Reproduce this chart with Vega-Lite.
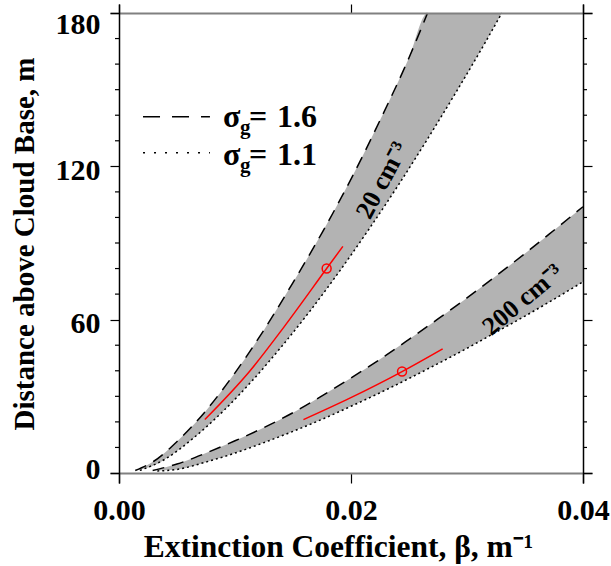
{
  "$schema": "https://vega.github.io/schema/vega-lite/v6.json",
  "width": 482,
  "height": 479,
  "autosize": {"type": "none"},
  "padding": {"left": 110, "top": 4, "right": 19, "bottom": 83},
  "config": {"view": {"stroke": null}, "font": "Liberation Serif"},
  "datasets": {
    "area": [
      {"band": "20", "b": 0.0014, "top": 1.0, "bot": 1.0},
      {"band": "20", "b": 0.003, "top": 4.6, "bot": 2.9},
      {"band": "20", "b": 0.005, "top": 12.3, "bot": 8.6},
      {"band": "20", "b": 0.0075, "top": 24.4, "bot": 17.9},
      {"band": "20", "b": 0.010, "top": 39.2, "bot": 28.9},
      {"band": "20", "b": 0.0125, "top": 56.0, "bot": 41.4},
      {"band": "20", "b": 0.015, "top": 74.5, "bot": 55.0},
      {"band": "20", "b": 0.0175, "top": 94.0, "bot": 69.6},
      {"band": "20", "b": 0.020, "top": 115.0, "bot": 85.2},
      {"band": "20", "b": 0.0225, "top": 138.0, "bot": 101.8},
      {"band": "20", "b": 0.025, "top": 162.5, "bot": 119.2},
      {"band": "20", "b": 0.0266, "top": 180, "bot": 130.8},
      {"band": "20", "b": 0.029, "top": 180, "bot": 148.6},
      {"band": "20", "b": 0.0315, "top": 180, "bot": 167.9},
      {"band": "20", "b": 0.033, "top": 180, "bot": 180},
      {"band": "200", "b": 0.0029, "top": 1.0, "bot": 1.0},
      {"band": "200", "b": 0.005, "top": 3.5, "bot": 1.4},
      {"band": "200", "b": 0.0075, "top": 7.8, "bot": 4.3},
      {"band": "200", "b": 0.010, "top": 12.6, "bot": 7.8},
      {"band": "200", "b": 0.0125, "top": 17.8, "bot": 11.9},
      {"band": "200", "b": 0.015, "top": 23.6, "bot": 16.3},
      {"band": "200", "b": 0.0175, "top": 30.2, "bot": 21.0},
      {"band": "200", "b": 0.020, "top": 37.2, "bot": 26.1},
      {"band": "200", "b": 0.0225, "top": 44.5, "bot": 31.4},
      {"band": "200", "b": 0.025, "top": 52.3, "bot": 37.0},
      {"band": "200", "b": 0.0275, "top": 60.3, "bot": 42.8},
      {"band": "200", "b": 0.030, "top": 68.5, "bot": 48.8},
      {"band": "200", "b": 0.0325, "top": 77.1, "bot": 55.1},
      {"band": "200", "b": 0.035, "top": 85.9, "bot": 61.4},
      {"band": "200", "b": 0.0375, "top": 95.0, "bot": 68.0},
      {"band": "200", "b": 0.040, "top": 104.2, "bot": 74.8}
    ],
    "dashed": [
      {"band": "20", "b": 0.0014, "z": 1.0},
      {"band": "20", "b": 0.003, "z": 4.6},
      {"band": "20", "b": 0.005, "z": 12.3},
      {"band": "20", "b": 0.0075, "z": 24.4},
      {"band": "20", "b": 0.010, "z": 39.2},
      {"band": "20", "b": 0.0125, "z": 56.0},
      {"band": "20", "b": 0.015, "z": 74.5},
      {"band": "20", "b": 0.0175, "z": 94.0},
      {"band": "20", "b": 0.020, "z": 115.0},
      {"band": "20", "b": 0.0225, "z": 138.0},
      {"band": "20", "b": 0.025, "z": 162.5},
      {"band": "20", "b": 0.0266, "z": 180},
      {"band": "200", "b": 0.0029, "z": 1.0},
      {"band": "200", "b": 0.005, "z": 3.5},
      {"band": "200", "b": 0.0075, "z": 7.8},
      {"band": "200", "b": 0.010, "z": 12.6},
      {"band": "200", "b": 0.0125, "z": 17.8},
      {"band": "200", "b": 0.015, "z": 23.6},
      {"band": "200", "b": 0.0175, "z": 30.2},
      {"band": "200", "b": 0.020, "z": 37.2},
      {"band": "200", "b": 0.0225, "z": 44.5},
      {"band": "200", "b": 0.025, "z": 52.3},
      {"band": "200", "b": 0.0275, "z": 60.3},
      {"band": "200", "b": 0.030, "z": 68.5},
      {"band": "200", "b": 0.0325, "z": 77.1},
      {"band": "200", "b": 0.035, "z": 85.9},
      {"band": "200", "b": 0.0375, "z": 95.0},
      {"band": "200", "b": 0.040, "z": 104.2}
    ],
    "dotted": [
      {"band": "20", "b": 0.0018, "z": 1.0},
      {"band": "20", "b": 0.004, "z": 5.5},
      {"band": "20", "b": 0.0065, "z": 14.0},
      {"band": "20", "b": 0.009, "z": 24.3},
      {"band": "20", "b": 0.0115, "z": 36.2},
      {"band": "20", "b": 0.014, "z": 49.4},
      {"band": "20", "b": 0.0165, "z": 63.6},
      {"band": "20", "b": 0.019, "z": 78.9},
      {"band": "20", "b": 0.0215, "z": 95.1},
      {"band": "20", "b": 0.024, "z": 112.1},
      {"band": "20", "b": 0.0265, "z": 130.0},
      {"band": "20", "b": 0.029, "z": 148.6},
      {"band": "20", "b": 0.0315, "z": 167.9},
      {"band": "20", "b": 0.033, "z": 180},
      {"band": "200", "b": 0.0033, "z": 0.8},
      {"band": "200", "b": 0.005, "z": 1.4},
      {"band": "200", "b": 0.0075, "z": 4.3},
      {"band": "200", "b": 0.010, "z": 7.8},
      {"band": "200", "b": 0.0125, "z": 11.9},
      {"band": "200", "b": 0.015, "z": 16.3},
      {"band": "200", "b": 0.0175, "z": 21.0},
      {"band": "200", "b": 0.020, "z": 26.1},
      {"band": "200", "b": 0.0225, "z": 31.4},
      {"band": "200", "b": 0.025, "z": 37.0},
      {"band": "200", "b": 0.0275, "z": 42.8},
      {"band": "200", "b": 0.030, "z": 48.8},
      {"band": "200", "b": 0.0325, "z": 55.1},
      {"band": "200", "b": 0.035, "z": 61.4},
      {"band": "200", "b": 0.0375, "z": 68.0},
      {"band": "200", "b": 0.040, "z": 74.8}
    ],
    "red": [
      {"band": "20", "b": 0.0074, "z": 20.9},
      {"band": "20", "b": 0.0113, "z": 40.0},
      {"band": "20", "b": 0.0142, "z": 57.0},
      {"band": "20", "b": 0.0179, "z": 80.0},
      {"band": "20", "b": 0.0193, "z": 88.7},
      {"band": "200", "b": 0.0159, "z": 20.9},
      {"band": "200", "b": 0.0199, "z": 29.3},
      {"band": "200", "b": 0.0244, "z": 39.7},
      {"band": "200", "b": 0.0279, "z": 48.6}
    ],
    "circ": [
      {"band": "20", "b": 0.0179, "z": 80.0},
      {"band": "200", "b": 0.0244, "z": 39.7}
    ],
    "minor": [
      {"v": 10}, {"v": 20}, {"v": 30}, {"v": 40}, {"v": 50},
      {"v": 70}, {"v": 80}, {"v": 90}, {"v": 100}, {"v": 110},
      {"v": 130}, {"v": 140}, {"v": 150}, {"v": 160}, {"v": 170}
    ],
    "legtext": [
      {"sg": "1.6", "b": 0.00897, "z": 135.5},
      {"sg": "1.1", "b": 0.00897, "z": 120.6}
    ]
  },
  "resolve": {"axis": {"x": "independent", "y": "independent"}},
  "layer": [
    {
      "data": {"name": "area"},
      "mark": {"type": "area", "color": "#b3b3b3", "interpolate": "monotone", "opacity": 1},
      "encoding": {
        "x": {
          "field": "b", "type": "quantitative",
          "scale": {"domain": [-0.000776, 0.040776], "nice": false, "zero": false},
          "axis": {
            "orient": "bottom", "offset": -10, "values": [0, 0.02, 0.04], "format": ".2f",
            "tickSize": 10, "tickColor": "black", "tickWidth": 1.2,
            "domainColor": "#808080", "domainWidth": 2,
            "labelFont": "Liberation Serif", "labelFontSize": 30, "labelFontWeight": "bold", "labelColor": "black",
            "labelPadding": 12, "labelFlush": false, "labelOverlap": false, "grid": false,
            "title": "Extinction Coefficient, β, m⁻¹",
            "titleFont": "Liberation Serif", "titleFontSize": 31.5, "titleFontWeight": "bold", "titleColor": "black",
            "titlePadding": 6, "titleX": 228, "zindex": 1
          }
        },
        "y": {
          "field": "top", "type": "quantitative",
          "scale": {"domain": [-3.913, 183.522], "nice": false, "zero": false},
          "axis": {
            "orient": "left", "offset": -9, "values": [0, 60, 120, 180], "format": "d",
            "tickSize": 9, "tickColor": "black", "tickWidth": 1.2,
            "domainColor": "black", "domainWidth": 1.5,
            "labelFont": "Liberation Serif", "labelFontSize": 30, "labelFontWeight": "bold", "labelColor": "black",
            "labelPadding": 10, "labelFlush": 12, "labelFlushOffset": 7.5, "labelOffset": 4,
            "labelOverlap": false, "grid": false,
            "title": "Distance above Cloud Base, m",
            "titleFont": "Liberation Serif", "titleFontSize": 29, "titleFontWeight": "bold", "titleColor": "black",
            "titlePadding": 16, "zindex": 1
          }
        },
        "y2": {"field": "bot"},
        "detail": {"field": "band"}
      }
    },
    {
      "data": {"name": "dashed"},
      "mark": {"type": "line", "color": "black", "strokeWidth": 1.5, "strokeDash": [12, 8], "interpolate": "monotone"},
      "encoding": {
        "x": {
          "field": "b", "type": "quantitative",
          "axis": {
            "orient": "top", "offset": -9, "values": [0, 0.02, 0.04], "tickSize": 9, "tickColor": "black", "tickWidth": 1.2,
            "labels": false, "domainColor": "#808080", "domainWidth": 2, "grid": false, "title": null, "zindex": 1
          }
        },
        "y": {
          "field": "z", "type": "quantitative",
          "axis": {
            "orient": "right", "offset": -9, "values": [0, 60, 120, 180], "tickSize": 9, "tickColor": "black", "tickWidth": 1.2,
            "labels": false, "domainColor": "black", "domainWidth": 1.5, "grid": false, "title": null, "zindex": 1
          }
        },
        "detail": {"field": "band"}
      }
    },
    {
      "data": {"name": "dotted"},
      "mark": {"type": "line", "color": "black", "strokeWidth": 1.5, "strokeDash": [2, 3], "interpolate": "monotone"},
      "encoding": {
        "x": {"field": "b", "type": "quantitative", "axis": null},
        "y": {"field": "z", "type": "quantitative", "axis": null},
        "detail": {"field": "band"}
      }
    },
    {
      "data": {"name": "red"},
      "mark": {"type": "line", "color": "#ff0000", "strokeWidth": 1.5, "interpolate": "monotone"},
      "encoding": {
        "x": {"field": "b", "type": "quantitative", "axis": null},
        "y": {"field": "z", "type": "quantitative", "axis": null},
        "detail": {"field": "band"}
      }
    },
    {
      "data": {"name": "circ"},
      "mark": {"type": "point", "shape": "circle", "filled": false, "color": "#ff0000", "size": 80, "strokeWidth": 1.5, "opacity": 1},
      "encoding": {
        "x": {"field": "b", "type": "quantitative", "axis": null},
        "y": {"field": "z", "type": "quantitative", "axis": null}
      }
    },
    {
      "data": {"name": "minor"},
      "mark": {"type": "tick", "orient": "horizontal", "size": 4, "thickness": 1.2, "xOffset": -2, "color": "black", "opacity": 1},
      "encoding": {
        "x": {"datum": 0, "type": "quantitative", "axis": null},
        "y": {"field": "v", "type": "quantitative", "axis": null}
      }
    },
    {
      "data": {"name": "minor"},
      "mark": {"type": "tick", "orient": "horizontal", "size": 4, "thickness": 1.2, "xOffset": 2, "color": "black", "opacity": 1},
      "encoding": {
        "x": {"datum": 0.04, "type": "quantitative", "axis": null},
        "y": {"field": "v", "type": "quantitative", "axis": null}
      }
    },
    {
      "data": {"values": [{"b": 0.00207, "z": 139.4}, {"b": 0.00784, "z": 139.4}]},
      "mark": {"type": "line", "color": "black", "strokeWidth": 1.5, "strokeDash": [17, 12]},
      "encoding": {
        "x": {"field": "b", "type": "quantitative", "axis": null},
        "y": {"field": "z", "type": "quantitative", "axis": null}
      }
    },
    {
      "data": {"values": [{"b": 0.00207, "z": 125.3}, {"b": 0.00784, "z": 125.3}]},
      "mark": {"type": "line", "color": "black", "strokeWidth": 1.5, "strokeDash": [2, 9]},
      "encoding": {
        "x": {"field": "b", "type": "quantitative", "axis": null},
        "y": {"field": "z", "type": "quantitative", "axis": null}
      }
    },
    {
      "data": {"name": "legtext"},
      "mark": {"type": "text", "text": "σ", "align": "left", "baseline": "alphabetic", "font": "Liberation Serif", "fontSize": 32, "fontWeight": "bold", "color": "black"},
      "encoding": {
        "x": {"field": "b", "type": "quantitative", "axis": null},
        "y": {"field": "z", "type": "quantitative", "axis": null}
      }
    },
    {
      "data": {"name": "legtext"},
      "mark": {"type": "text", "text": "g", "align": "left", "baseline": "alphabetic", "dx": 17, "dy": 7, "font": "Liberation Serif", "fontSize": 21, "fontWeight": "bold", "color": "black"},
      "encoding": {
        "x": {"field": "b", "type": "quantitative", "axis": null},
        "y": {"field": "z", "type": "quantitative", "axis": null}
      }
    },
    {
      "data": {"name": "legtext"},
      "mark": {"type": "text", "text": "=", "align": "left", "baseline": "alphabetic", "dx": 26, "font": "Liberation Serif", "fontSize": 32, "fontWeight": "bold", "color": "black"},
      "encoding": {
        "x": {"field": "b", "type": "quantitative", "axis": null},
        "y": {"field": "z", "type": "quantitative", "axis": null}
      }
    },
    {
      "data": {"name": "legtext"},
      "mark": {"type": "text", "align": "left", "baseline": "alphabetic", "dx": 54, "font": "Liberation Serif", "fontSize": 32, "fontWeight": "bold", "color": "black"},
      "encoding": {
        "x": {"field": "b", "type": "quantitative", "axis": null},
        "y": {"field": "z", "type": "quantitative", "axis": null},
        "text": {"field": "sg"}
      }
    },
    {
      "data": {"values": [{"lab": "20 cm⁻³", "b": 0.0227, "z": 114.5}]},
      "mark": {"type": "text", "align": "center", "baseline": "middle", "angle": 298, "font": "Liberation Serif", "fontSize": 26, "fontWeight": "bold", "color": "black"},
      "encoding": {
        "x": {"field": "b", "type": "quantitative", "axis": null},
        "y": {"field": "z", "type": "quantitative", "axis": null},
        "text": {"field": "lab"}
      }
    },
    {
      "data": {"values": [{"lab": "200 cm⁻³", "b": 0.0348, "z": 67.8}]},
      "mark": {"type": "text", "align": "center", "baseline": "middle", "angle": 320, "font": "Liberation Serif", "fontSize": 26, "fontWeight": "bold", "color": "black"},
      "encoding": {
        "x": {"field": "b", "type": "quantitative", "axis": null},
        "y": {"field": "z", "type": "quantitative", "axis": null},
        "text": {"field": "lab"}
      }
    }
  ]
}
